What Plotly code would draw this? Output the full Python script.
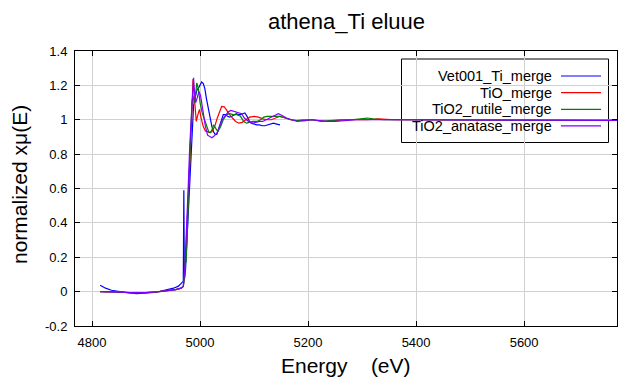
import plotly.graph_objects as go

# ---------------- data ----------------
series_names = ["Vet001_Ti_merge", "TiO_merge", "TiO2_rutile_merge", "TiO2_anatase_merge"]
series_colors = ["#0000ff", "#ff0000", "#008000", "#8000ff"]

vet_E = [4815, 4825, 4836, 4850, 4870, 4883, 4900, 4915, 4926, 4940,
         4951, 4960, 4966, 4969, 4970, 4971, 4973, 4976, 4980, 4984,
         4988, 4991, 4994, 4998, 5003, 5006, 5009, 5012, 5015, 5018,
         5022, 5025, 5028, 5031, 5034, 5037, 5040, 5043, 5047, 5051,
         5055, 5059, 5063, 5067, 5071, 5075, 5079, 5083, 5087, 5091,
         5095, 5100, 5105, 5110, 5115, 5120, 5125, 5130, 5136, 5142,
         5148]
vet_mu = [0.037, 0.02, 0.008, 0.0, -0.008, -0.012, -0.01, -0.004, 0.002, 0.01,
          0.02, 0.032, 0.047, 0.06, 0.59, 0.07, 0.12, 0.3, 0.55, 0.85,
          1.08, 1.13, 1.17, 1.19, 1.22, 1.21, 1.18, 1.12, 1.07, 1.02,
          0.96, 0.93, 0.915, 0.915, 0.94, 0.97, 1.0, 1.03, 1.03, 1.02,
          1.015, 1.02, 1.03, 1.035, 1.03, 1.03, 1.035, 1.04, 1.02, 0.995,
          0.98, 0.975, 0.97, 0.97, 0.965, 0.965, 0.97, 0.975, 0.98, 0.975,
          0.97]

tio_E = [4815, 4830, 4850, 4870, 4885, 4900, 4920, 4940, 4955, 4965,
         4969, 4972, 4975, 4978, 4981, 4984, 4987, 4989, 4991, 4993,
         4996, 4999, 5002, 5006, 5010, 5014, 5018, 5022, 5027, 5032,
         5036, 5040, 5045, 5050, 5055, 5060, 5066, 5072, 5078, 5085,
         5092, 5100, 5108, 5116, 5124, 5132, 5140, 5148, 5158, 5168,
         5178, 5190, 5205, 5220, 5235, 5250, 5270, 5290, 5310, 5330,
         5360, 5390, 5420, 5460, 5500, 5550, 5600, 5650, 5700, 5750,
         5800]
tio_mu = [0.0, 0.0, -0.003, -0.006, -0.008, -0.006, -0.002, 0.004, 0.012, 0.02,
          0.03, 0.1, 0.3, 0.55, 0.78, 0.97, 1.237, 1.15, 1.02, 0.99,
          1.03, 1.06, 1.01, 0.96, 0.935, 0.93, 0.925, 0.93, 0.96, 1.01,
          1.05, 1.077, 1.075, 1.05, 1.03, 1.01, 0.99, 0.98, 0.985, 1.0,
          1.015, 1.02, 1.015, 1.005, 1.0, 1.0, 1.01, 1.02, 1.01, 1.0,
          0.995, 1.0, 1.0, 0.995, 0.99, 0.995, 1.0, 1.0, 1.0, 1.005,
          1.0, 1.0, 1.0, 1.0, 1.0, 1.0, 0.998, 0.998, 0.997, 0.996,
          0.996]

rut_E = [4815, 4830, 4850, 4870, 4885, 4900, 4920, 4940, 4955, 4965,
         4969, 4971, 4972, 4974, 4976, 4979, 4982, 4985, 4987, 4989,
         4991, 4994, 4997, 5000, 5004, 5009, 5013, 5016, 5019, 5022,
         5025, 5029, 5033, 5038, 5043, 5049, 5055, 5061, 5068, 5075,
         5081, 5086, 5092, 5098, 5105, 5112, 5118, 5124, 5132, 5140,
         5148, 5158, 5168, 5180, 5195, 5210, 5225, 5240, 5260, 5280,
         5300, 5310, 5320, 5340, 5370, 5400, 5440, 5480, 5520, 5560,
         5600, 5650, 5700, 5750, 5800]
rut_mu = [0.0, 0.0, -0.003, -0.006, -0.008, -0.006, -0.002, 0.004, 0.012, 0.02,
          0.03, 0.08, 0.2, 0.17, 0.3, 0.6, 0.9, 1.1, 1.14, 1.10,
          1.12, 1.215, 1.18, 1.10, 1.04, 0.99, 0.95, 0.93, 0.925, 0.94,
          0.97, 0.95, 0.93, 0.96, 1.0, 1.03, 1.035, 1.03, 1.03, 1.02,
          0.99, 0.98, 0.985, 0.99, 0.99, 1.0, 1.015, 1.02, 1.02, 1.02,
          1.02, 1.01, 1.0, 0.995, 0.995, 1.0, 0.99, 0.995, 1.0, 1.0,
          1.005, 1.01, 1.005, 1.0, 1.0, 1.0, 1.0, 1.0, 1.0, 0.998,
          0.998, 0.997, 0.997, 0.996, 0.996]

ana_E = [4815, 4830, 4850, 4870, 4885, 4900, 4920, 4940, 4955, 4965,
         4969, 4972, 4975, 4978, 4981, 4984, 4986, 4988, 4990, 4992,
         4995, 4998, 5001, 5004, 5007, 5010, 5014, 5018, 5022, 5026,
         5031, 5036, 5041, 5046, 5052, 5057, 5062, 5068, 5073, 5077,
         5082, 5086, 5092, 5098, 5104, 5110, 5116, 5122, 5128, 5134,
         5140, 5145, 5152, 5160, 5170, 5180, 5192, 5205, 5220, 5235,
         5250, 5270, 5290, 5310, 5340, 5370, 5400, 5440, 5480, 5520,
         5560, 5600, 5650, 5700, 5750, 5800]
ana_mu = [0.0, 0.0, -0.003, -0.006, -0.008, -0.006, -0.002, 0.004, 0.012, 0.02,
          0.03, 0.15, 0.35, 0.6, 0.85, 1.05, 1.15, 1.244, 1.15, 1.10,
          1.13, 1.165, 1.14, 1.08, 1.02, 0.96, 0.91, 0.90, 0.895, 0.905,
          0.92, 0.96, 1.0, 1.02, 1.045, 1.054, 1.05, 1.045, 1.04, 1.035,
          1.01, 1.0, 0.985, 0.98, 0.985, 0.99, 0.99, 1.0, 1.01, 1.02,
          1.03, 1.035, 1.025, 1.01, 1.0, 0.99, 0.995, 1.0, 0.995, 0.99,
          0.99, 0.995, 1.0, 1.0, 1.0, 1.0, 1.0, 1.0, 1.0, 0.998,
          0.998, 0.997, 0.997, 0.996, 0.996, 0.996]

x_ticks = [4800, 5000, 5200, 5400, 5600]
y_ticks = [-0.2, 0, 0.2, 0.4, 0.6, 0.8, 1, 1.2, 1.4]
y_ticktext = ["-0.2", "0", "0.2", "0.4", "0.6", "0.8", "1", "1.2", "1.4"]

title_text = "athena_Ti eluue"
x_title = "Energy    (eV)"
y_title = "normalized xμ(E)"

# ---------------- figure ----------------
OFF = 8  # page body margin of the html page
W, H = 640 - OFF, 384 - OFF
# plot frame in screen pixels
L, R, T, B = 75, 617, 51, 326
FONT = "Liberation Sans, Arial, sans-serif"

def px_x(p):
    return (p - L) / (R - L)

def px_y(p):
    return (B - p) / (B - T)

fig = go.Figure()
xs = [vet_E, tio_E, rut_E, ana_E]
ys = [vet_mu, tio_mu, rut_mu, ana_mu]
for name, col, x, y in zip(series_names, series_colors, xs, ys):
    fig.add_trace(go.Scatter(x=x, y=y, mode="lines", name=name,
                             line=dict(color=col, width=1.2),
                             showlegend=False))

shapes = [dict(type="rect", xref="paper", yref="paper",
               x0=px_x(401.5), x1=px_x(608.5), y0=px_y(142.5), y1=px_y(59),
               line=dict(color="black", width=1), fillcolor="white",
               layer="between")]
annotations = []
rows_px = [76, 92.7, 109.3, 125.9]
for name, col, ry in zip(series_names, series_colors, rows_px):
    annotations.append(dict(xref="paper", yref="paper", x=px_x(554), y=px_y(ry),
                            text=name, showarrow=False, xanchor="right",
                            yanchor="middle",
                            font=dict(family=FONT, size=14.5, color="black")))
    shapes.append(dict(type="line", xref="paper", yref="paper",
                       x0=px_x(561), x1=px_x(601), y0=px_y(ry), y1=px_y(ry),
                       line=dict(color=col, width=1.2), layer="above"))

annotations.append(dict(xref="paper", yref="paper", x=0.5, y=px_y(365),
                        text=x_title, showarrow=False, xanchor="center",
                        yanchor="middle",
                        font=dict(family=FONT, size=21, color="black")))
annotations.append(dict(xref="paper", yref="paper", x=px_x(19), y=px_y(185),
                        text=y_title, showarrow=False, xanchor="center",
                        yanchor="middle", textangle=-90,
                        font=dict(family=FONT, size=21, color="black")))
annotations.append(dict(xref="paper", yref="paper", x=0.5, y=px_y(22),
                        text=title_text, showarrow=False, xanchor="center",
                        yanchor="middle",
                        font=dict(family=FONT, size=22, color="black")))

fig.update_layout(
    width=W, height=H,
    margin=dict(l=L - OFF, r=W - (R - OFF), t=T - OFF, b=H - (B - OFF),
                pad=0, autoexpand=False),
    paper_bgcolor="white", plot_bgcolor="white",
    font=dict(family=FONT, size=13, color="black"),
    shapes=shapes, annotations=annotations,
    showlegend=False,
)
fig.update_xaxes(range=[4768.5, 5772], tickvals=x_ticks, automargin=False,
                 showline=True, linecolor="black", linewidth=1, mirror="ticks",
                 ticks="inside", ticklen=5, tickcolor="black",
                 ticklabelstandoff=4,
                 showgrid=True, gridcolor="#d0d0d0", gridwidth=1, zeroline=False,
                 tickfont=dict(family=FONT, size=13, color="black"))
fig.update_yaxes(range=[-0.2, 1.4], tickvals=y_ticks, ticktext=y_ticktext,
                 automargin=False,
                 showline=True, linecolor="black", linewidth=1, mirror="ticks",
                 ticks="inside", ticklen=5, tickcolor="black",
                 ticklabelstandoff=4,
                 showgrid=True, gridcolor="#d0d0d0", gridwidth=1, zeroline=False,
                 tickfont=dict(family=FONT, size=13, color="black"))

fig.write_html("out.html")
